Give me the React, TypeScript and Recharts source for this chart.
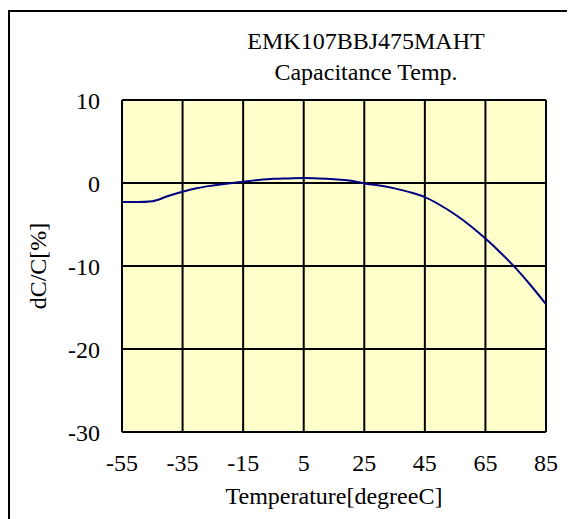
import { LineChart, Line, XAxis, YAxis, CartesianGrid, Label } from "recharts";

const temps = [-55, -50, -45, -40, -35, -30, -25, -20, -15, -10, -5, 0, 5, 10, 15, 20, 25, 30, 35, 40, 45, 50, 55, 60, 65, 70, 75, 80, 85];
const dcc = [-2.3, -2.3, -2.2, -1.6, -1.05, -0.6, -0.3, -0.05, 0.15, 0.35, 0.5, 0.55, 0.6, 0.55, 0.45, 0.3, -0.05, -0.3, -0.65, -1.1, -1.7, -2.65, -3.8, -5.15, -6.7, -8.4, -10.25, -12.35, -14.6];
const xTicks = [-55, -35, -15, 5, 25, 45, 65, 85];
const yTicks = [-30, -20, -10, 0, 10];

const data = temps.map((t, i) => ({ t, v: dcc[i] }));

const FONT = '"Liberation Serif", "Times New Roman", serif';

export default function App() {
  return (
    <div style={{ position: "relative", width: 567, height: 511, overflow: "hidden", fontFamily: FONT }}>
      <div
        style={{
          position: "absolute",
          left: 0,
          top: 2,
          width: 700,
          height: 700,
          borderLeft: "2px solid #000",
          borderTop: "2px solid #000",
          boxSizing: "border-box",
        }}
      />
      <div style={{ position: "absolute", left: 0, width: 716, top: 18, textAlign: "center", fontSize: 24, color: "#000", lineHeight: "31px" }}>
        <div>EMK107BBJ475MAHT</div>
        <div>Capacitance Temp.</div>
      </div>
      <LineChart
        width={567}
        height={511}
        data={data}
        margin={{ top: 92, right: 29, bottom: 0, left: 0 }}
        style={{ position: "absolute", left: 0, top: 0 }}
      >
        <CartesianGrid stroke="#000" strokeWidth={2} fill="#FFFFCC" fillOpacity={1} />
        <XAxis
          dataKey="t"
          type="number"
          domain={[-55, 85]}
          ticks={xTicks}
          axisLine={false}
          tickLine={false}
          tickMargin={16}
          tick={{ fill: "#000", fontSize: 24, fontFamily: FONT }}
          height={87}
        >
          <Label value="Temperature[degreeC]" position="insideBottom" offset={15} style={{ fill: "#000", fontSize: 24, fontFamily: FONT }} />
        </XAxis>
        <YAxis
          type="number"
          domain={[-30, 10]}
          ticks={yTicks}
          axisLine={false}
          tickLine={false}
          tickMargin={16}
          tick={{ fill: "#000", fontSize: 24, fontFamily: FONT }}
          width={114}
        >
          <Label value="dC/C[%]" angle={-90} position="insideLeft" offset={29} style={{ fill: "#000", fontSize: 24, fontFamily: FONT, textAnchor: "middle" }} />
        </YAxis>
        <Line type="monotone" dataKey="v" stroke="#000080" strokeWidth={2} dot={false} isAnimationActive={false} />
      </LineChart>
    </div>
  );
}
